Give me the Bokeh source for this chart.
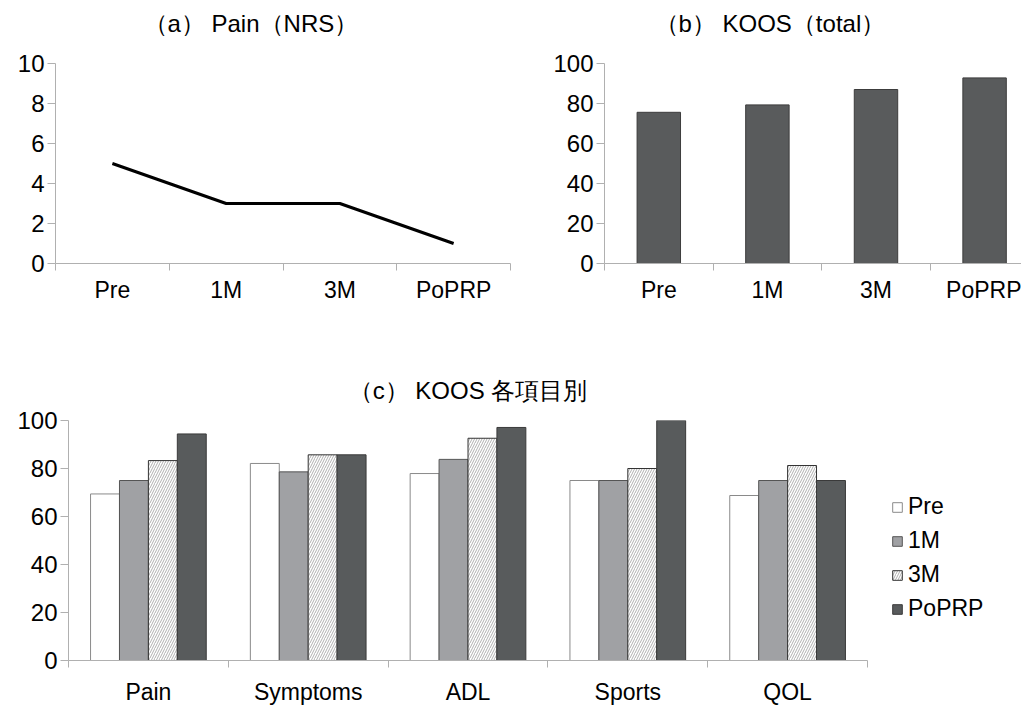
from bokeh.plotting import figure
from bokeh.models import (Range1d, FixedTicker, Legend, LegendItem, ColumnDataSource, Label)
from bokeh.layouts import column, row
from bokeh.embed import file_html
from bokeh.resources import INLINE

# ---------------- data ----------------
timepoints = ["Pre", "1M", "3M", "PoPRP"]
nrs = [5, 3, 3, 1]
koos_total = [75.6, 79.3, 87.0, 92.8]

subscales = ["Pain", "Symptoms", "ADL", "Sports", "QOL"]
series_names = ["Pre", "1M", "3M", "PoPRP"]
pre = [69.4, 82.1, 77.9, 75.0, 68.75]
m1 = [75.0, 78.6, 83.8, 75.0, 75.0]
m3 = [83.3, 85.7, 92.6, 80.0, 81.25]
poprp = [94.4, 85.7, 97.1, 100.0, 75.0]

title_a = "（a） Pain（NRS）"
title_b = "（b） KOOS（total）"
title_c = "（c） KOOS 各項目別"

# ---------------- style ----------------
FONT = "Liberation Sans"
AXC = "#b0b0b0"
TICK_FS = "23px"
YTICK_FS = "24px"
TITLE_FS = "24px"


def blank(p):
    p.xgrid.visible = False
    p.ygrid.visible = False
    p.outline_line_color = None
    p.background_fill_color = "white"
    p.border_fill_color = "white"


def style(p, cats, ymax, ystep, standoff):
    blank(p)
    xa = p.xaxis[0]
    xa.ticker = FixedTicker(ticks=[i + 0.5 for i in range(len(cats))],
                            minor_ticks=list(range(len(cats) + 1)))
    xa.major_label_overrides = {i + 0.5: c for i, c in enumerate(cats)}
    xa.major_tick_line_color = None
    xa.major_tick_out = 0
    xa.major_tick_in = 0
    xa.minor_tick_out = 7
    xa.minor_tick_in = 0
    xa.minor_tick_line_color = AXC
    xa.axis_line_color = AXC
    xa.major_label_standoff = standoff
    xa.major_label_text_font = FONT
    xa.major_label_text_font_size = TICK_FS
    xa.major_label_text_color = "black"
    ya = p.yaxis[0]
    ya.ticker = FixedTicker(ticks=list(range(0, ymax + 1, ystep)), minor_ticks=[])
    ya.major_tick_out = 8
    ya.major_tick_in = 0
    ya.major_tick_line_color = AXC
    ya.minor_tick_line_color = None
    ya.axis_line_color = AXC
    ya.major_label_standoff = 3
    ya.major_label_text_font = FONT
    ya.major_label_text_font_size = YTICK_FS
    ya.major_label_text_color = "black"


# ---------------- title strip for panels (a) and (b) ----------------
ps = figure(width=1021, height=40, x_range=Range1d(0, 1), y_range=Range1d(0, 1),
            output_backend="svg", toolbar_location=None, x_axis_type=None, y_axis_type=None,
            min_border_left=0, min_border_right=0, min_border_top=0, min_border_bottom=0)
blank(ps)
for tx, txt in [(143, title_a), (654, title_b)]:
    ps.add_layout(Label(x=tx, y=17, x_units="screen", y_units="screen", text=txt,
                        text_font=FONT, text_font_size=TITLE_FS, text_color="black",
                        text_align="left", text_baseline="middle"))

# ---------------- panel (a) ----------------
pa = figure(width=550, height=298, x_range=Range1d(0, 4), y_range=Range1d(0, 10),
            output_backend="svg", toolbar_location=None,
            min_border_left=55, min_border_right=40, min_border_top=23, min_border_bottom=75)
style(pa, timepoints, 10, 2, 6)
xa_pos = [i + 0.5 for i in range(len(timepoints))]
pa.line(xa_pos, nrs, line_color="black", line_width=3)

# ---------------- panel (b) ----------------
pb = figure(width=471, height=298, x_range=Range1d(0, 3.84), y_range=Range1d(0, 100),
            output_backend="svg", toolbar_location=None,
            min_border_left=45, min_border_right=0, min_border_top=23, min_border_bottom=75)
style(pb, timepoints, 100, 20, 6)
pb.vbar(x=xa_pos, top=koos_total, bottom=0, width=0.4,
        fill_color="#595b5c", line_color="#3c3c3c", line_width=1)

# ---------------- panel (c) ----------------
pc = figure(width=877, height=369, x_range=Range1d(0, 5), y_range=Range1d(0, 100),
            output_backend="svg", toolbar_location=None, title=title_c,
            min_border_left=68, min_border_right=10, min_border_top=82, min_border_bottom=40)
style(pc, subscales, 100, 20, 11)
pc.title.text_font = FONT
pc.title.text_font_size = TITLE_FS
pc.title.text_font_style = "normal"
pc.title.text_color = "black"
pc.title.align = "center"
pc.title.standoff = 33

bw = 0.181
styles = [
    dict(fill_color="white", line_color="#8a8a8a"),
    dict(fill_color="#a0a1a4", line_color="#555555"),
    dict(fill_color="white", line_color="#333333", hatch_pattern="/",
         hatch_color="#9a9a9a", hatch_scale=5, hatch_weight=0.8),
    dict(fill_color="#585b5c", line_color="#3a3a3a"),
]
values = [pre, m1, m3, poprp]

# legend lives in a small side figure; its renderers are hidden, only the
# legend swatches show
pl = figure(width=144, height=369, x_range=Range1d(0, 5), y_range=Range1d(0, 100),
            output_backend="svg", toolbar_location=None, x_axis_type=None, y_axis_type=None,
            min_border_left=0, min_border_right=0, min_border_top=0, min_border_bottom=0)
blank(pl)

items = []
for j, (name, vals, st) in enumerate(zip(series_names, values, styles)):
    xs = [i + 0.5 + (j - 1.5) * bw for i in range(len(subscales))]
    src = ColumnDataSource(dict(x=xs, top=vals))
    pc.vbar(x="x", top="top", bottom=0, width=bw, source=src, line_width=1, **st)
    lr = pl.vbar(x="x", top="top", bottom=0, width=bw, source=src, line_width=1,
                 visible=False, **st)
    items.append(LegendItem(label=name, renderers=[lr]))

legend = Legend(items=items, location=(14, 38), orientation="vertical",
                glyph_width=12, glyph_height=12, label_height=24, spacing=7,
                padding=0, margin=0, border_line_color=None, background_fill_alpha=0,
                label_text_font=FONT, label_text_font_size="23px", label_standoff=5,
                label_text_color="black", inactive_fill_alpha=0)
pl.add_layout(legend)

layout = column(ps, row(pa, pb), row(pc, pl))
open("out.html", "w").write(file_html(layout, INLINE))
